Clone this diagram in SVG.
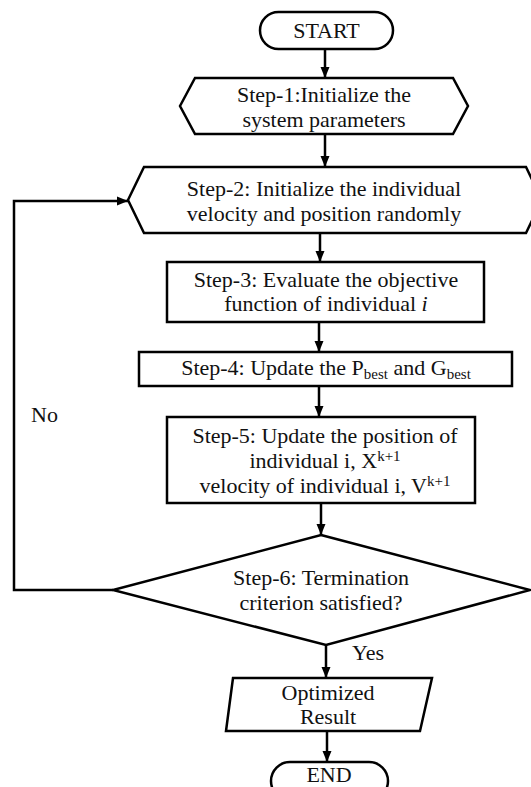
<svg xmlns="http://www.w3.org/2000/svg" width="531" height="787" viewBox="0 0 531 787">
<style>
.s{fill:#fff;stroke:#000;stroke-width:2.5;stroke-linejoin:miter}
.c{fill:none;stroke:#000;stroke-width:2.5}
text{font-family:"Liberation Serif","Times New Roman",serif;font-size:22px;fill:#111}
.m{text-anchor:middle}
.sub{font-size:15px}
</style>
<defs>
<marker id="ah" markerUnits="userSpaceOnUse" markerWidth="12" markerHeight="12" viewBox="0 0 12 12" refX="11" refY="6" orient="auto">
<path d="M0,1.5 L11,6 L0,10.5 Z" fill="#000"/>
</marker>
</defs>
<rect width="531" height="787" fill="#fff"/>
<g id="connectors">
<line class="c" x1="325" y1="49" x2="325" y2="78" marker-end="url(#ah)"/>
<line class="c" x1="325" y1="134" x2="325" y2="167" marker-end="url(#ah)"/>
<line class="c" x1="320" y1="233" x2="320" y2="262" marker-end="url(#ah)"/>
<line class="c" x1="319" y1="322" x2="319" y2="352" marker-end="url(#ah)"/>
<line class="c" x1="319" y1="386" x2="319" y2="417" marker-end="url(#ah)"/>
<line class="c" x1="321" y1="503" x2="321" y2="535" marker-end="url(#ah)"/>
<line class="c" x1="326" y1="645" x2="326" y2="678" marker-end="url(#ah)"/>
<line class="c" x1="327" y1="731" x2="327" y2="762" marker-end="url(#ah)"/>
<polyline class="c" points="113,590 14,590 14,201 128,201" marker-end="url(#ah)"/>
<text x="31" y="422">No</text>
<text x="352" y="660">Yes</text>
</g>
<g id="start">
<rect class="s" x="260" y="12" width="133" height="37" rx="18.5"/>
<text class="m" x="326.5" y="38">START</text>
</g>
<g id="step1">
<polygon class="s" points="180,106 195,78 453,78 468,106 453,134 195,134"/>
<text class="m" x="324" y="102">Step-1:Initialize the</text>
<text class="m" x="324" y="127">system parameters</text>
</g>
<g id="step2">
<polygon class="s" points="128,200 144,167 526,167 542,200 526,233 144,233"/>
<text class="m" x="324" y="196">Step-2: Initialize the individual</text>
<text class="m" x="324" y="221">velocity and position randomly</text>
</g>
<g id="step3">
<rect class="s" x="167" y="262" width="317" height="60"/>
<text class="m" x="326" y="287">Step-3: Evaluate the objective</text>
<text class="m" x="326" y="311">function of individual <tspan font-style="italic">i</tspan></text>
</g>
<g id="step4">
<rect class="s" x="139" y="352" width="373" height="34"/>
<text class="m" x="326" y="375">Step-4: Update the P<tspan class="sub" dy="4">best</tspan><tspan dy="-4"> and G</tspan><tspan class="sub" dy="4">best</tspan></text>
</g>
<g id="step5">
<rect class="s" x="167" y="417" width="308" height="86"/>
<text class="m" x="325" y="443">Step-5: Update the position of</text>
<text class="m" x="325" y="468">individual i, X<tspan class="sub" dy="-7">k+1</tspan></text>
<text class="m" x="325" y="493">velocity of individual i, V<tspan class="sub" dy="-7">k+1</tspan></text>
</g>
<g id="step6">
<polygon class="s" points="321,535 530,590 326,645 113,590"/>
<text class="m" x="321" y="585">Step-6: Termination</text>
<text class="m" x="321" y="610">criterion satisfied?</text>
</g>
<g id="result">
<polygon class="s" points="233,678 432,678 420,731 226,731"/>
<text class="m" x="328" y="700">Optimized</text>
<text class="m" x="328" y="724">Result</text>
</g>
<g id="end">
<rect class="s" x="271" y="762" width="117" height="38" rx="19"/>
<text class="m" x="329" y="782">END</text>
</g>
</svg>
